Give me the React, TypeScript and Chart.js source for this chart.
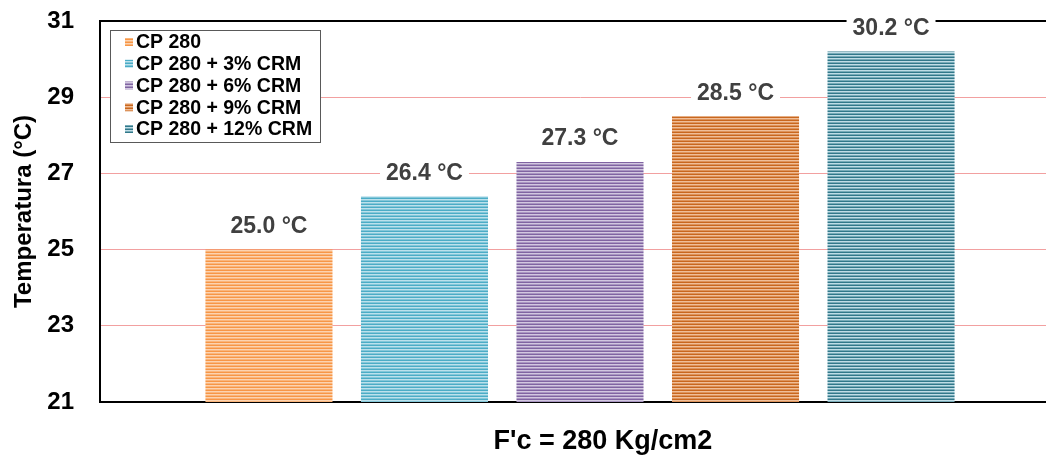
import React, { useEffect, useRef } from "react";
import { Chart, registerables } from "chart.js";

Chart.register(...registerables);

const categories = ["F'c = 280 Kg/cm2"];
const seriesNames = ["CP 280", "CP 280 + 3% CRM", "CP 280 + 6% CRM", "CP 280 + 9% CRM", "CP 280 + 12% CRM"];
const seriesValues = [25.0, 26.4, 27.3, 28.5, 30.2];
const baseColors = ["#F79646", "#4BACC6", "#8064A2", "#C9671E", "#31788A"];
const lightColors = ["#FCD3B0", "#BCE1EC", "#D2C7E0", "#F0BE98", "#BFDDE6"];
const yTicks = [21, 23, 25, 27, 29, 31];

const FONT = "Arial, 'Liberation Sans', sans-serif";

function mix(a: string, b: string) {
  const pa = [1, 3, 5].map((i) => parseInt(a.slice(i, i + 2), 16));
  const pb = [1, 3, 5].map((i) => parseInt(b.slice(i, i + 2), 16));
  return "rgb(" + pa.map((v, i) => Math.round((v + pb[i]) / 2)).join(",") + ")";
}

function makePattern(base: string, light: string): CanvasPattern | string {
  const c = document.createElement("canvas");
  c.width = 4;
  c.height = 3;
  const g = c.getContext("2d");
  if (!g) return base;
  g.fillStyle = base;
  g.fillRect(0, 0, 4, 3);
  g.fillStyle = light;
  g.fillRect(0, 1, 4, 1);
  g.fillStyle = mix(base, light);
  g.fillRect(0, 2, 4, 1);
  const p = g.createPattern(c, "repeat");
  return p || base;
}

export default function App() {
  const ref = useRef<HTMLCanvasElement | null>(null);

  useEffect(() => {
    const canvas = ref.current;
    if (!canvas) return;
    const patterns = baseColors.map((b, i) => makePattern(b, lightColors[i]));

    const labelPlugin = {
      id: "valueLabels",
      afterDatasetsDraw(chart: any) {
        const ctx = chart.ctx;
        ctx.save();
        ctx.font = "bold 23px " + FONT;
        ctx.textAlign = "center";
        ctx.textBaseline = "middle";
        chart.data.datasets.forEach((ds: any, i: number) => {
          const meta = chart.getDatasetMeta(i);
          meta.data.forEach((bar: any, j: number) => {
            const v = ds.data[j] as number;
            const txt = v.toFixed(1) + " °C";
            const w = ctx.measureText(txt).width;
            const y = bar.y - 24;
            ctx.fillStyle = "#ffffff";
            ctx.fillRect(bar.x - w / 2 - 6, y - 13, w + 12, 26);
            ctx.fillStyle = "#404040";
            ctx.fillText(txt, bar.x, y + 1);
          });
        });
        ctx.restore();
      },
    };

    const legendPlugin = {
      id: "boxLegend",
      afterDraw(chart: any) {
        const ctx = chart.ctx;
        const a = chart.chartArea;
        const x0 = a.left + 10;
        const y0 = a.top + 9;
        const w = 210;
        const h = 112;
        ctx.save();
        ctx.fillStyle = "#ffffff";
        ctx.fillRect(x0, y0, w, h);
        ctx.strokeStyle = "#595959";
        ctx.lineWidth = 1;
        ctx.strokeRect(x0 + 0.5, y0 + 0.5, w, h);
        ctx.font = "bold 19.5px " + FONT;
        ctx.textBaseline = "middle";
        ctx.textAlign = "left";
        chart.data.datasets.forEach((ds: any, i: number) => {
          const cy = y0 + 12 + i * 21.75;
          ctx.fillStyle = ds.backgroundColor;
          ctx.fillRect(x0 + 15, cy - 4, 8, 8);
          ctx.fillStyle = "#000000";
          ctx.fillText(ds.label, x0 + 26, cy + 1);
        });
        ctx.restore();
      },
    };

    const chart = new Chart(canvas, {
      type: "bar",
      data: {
        labels: categories,
        datasets: seriesNames.map((name, i) => ({
          label: name,
          data: [seriesValues[i]],
          backgroundColor: patterns[i] as any,
          borderWidth: 0,
          categoryPercentage: 0.81,
          barPercentage: 0.817,
        })),
      },
      options: {
        animation: false,
        responsive: false,
        maintainAspectRatio: false,
        layout: { padding: { top: 21, right: 0, bottom: 0, left: 0 } },
        plugins: {
          legend: { display: false },
          tooltip: { enabled: false },
          title: { display: false },
        },
        scales: {
          x: {
            grid: { display: false, drawTicks: false },
            border: { display: true, color: "#000000", width: 2 },
            ticks: {
              color: "#000000",
              font: { family: FONT, size: 27, weight: "bold" },
              padding: 23,
              labelOffset: 23,
            },
            afterFit(scale: any) {
              scale.height = 55;
              scale.paddingLeft = 0;
              scale.paddingRight = 0;
            },
          },
          y: {
            min: 21,
            max: 31,
            afterBuildTicks(scale: any) {
              scale.ticks = yTicks.map((v) => ({ value: v }));
            },
            grid: {
              drawTicks: false,
              color: (c: any) => (c.tick && c.tick.value === 31 ? "#000000" : "#F2A0A0"),
              lineWidth: (c: any) => (c.tick && c.tick.value === 31 ? 2 : 1),
            },
            border: { display: true, color: "#000000", width: 2 },
            ticks: {
              color: "#000000",
              font: { family: FONT, size: 24, weight: "bold" },
              padding: 26,
            },
            title: {
              display: true,
              text: "Temperatura (°C)",
              color: "#000000",
              font: { family: FONT, size: 24, weight: "bold" },
              padding: { top: 10, bottom: 0 },
            },
            afterFit(scale: any) {
              scale.width = 100;
              scale.paddingTop = 0;
              scale.paddingBottom = 0;
            },
          },
        },
      },
      plugins: [labelPlugin, legendPlugin],
    });

    return () => chart.destroy();
  }, []);

  return (
    <div style={{ position: "fixed", left: 0, top: 0, width: 1046, height: 457, overflow: "hidden", background: "#ffffff" }}>
      <canvas ref={ref} width={1060} height={457} style={{ display: "block" }} />
    </div>
  );
}
